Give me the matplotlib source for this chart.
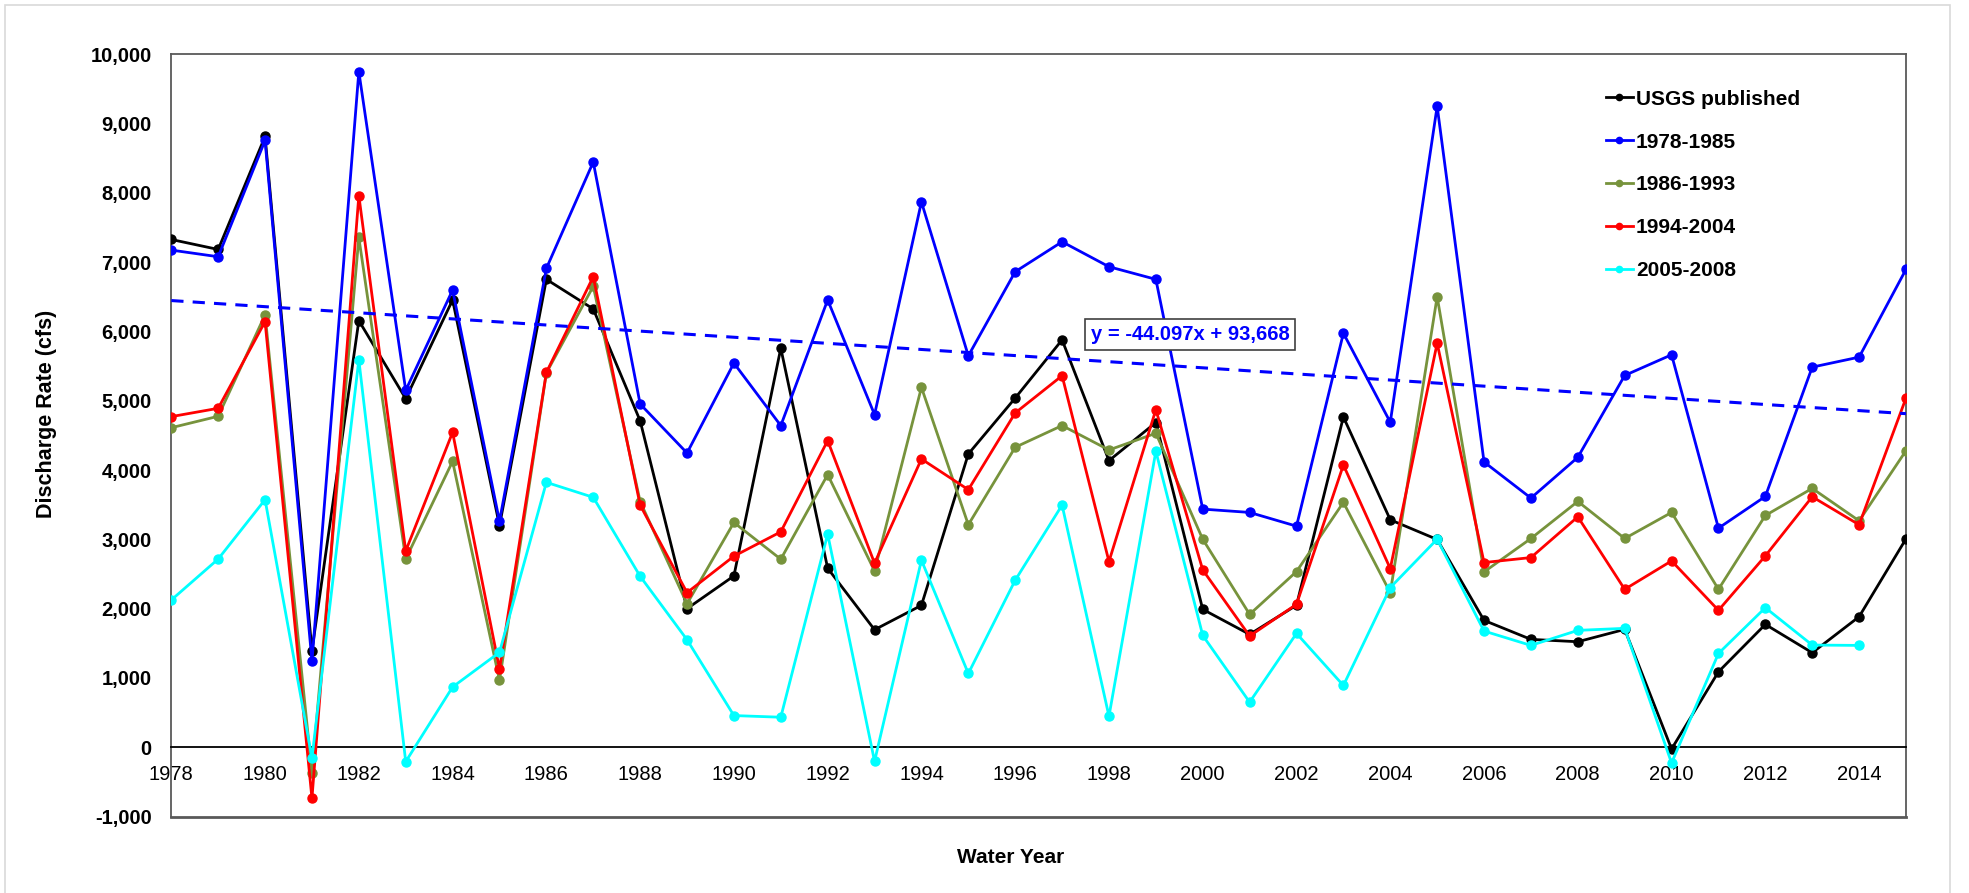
import numpy as np
import matplotlib
matplotlib.use("Agg")
import matplotlib.pyplot as plt
from matplotlib.lines import Line2D
from matplotlib.patches import Rectangle

plt.rcParams['font.family'] = ['Liberation Sans', 'DejaVu Sans']

years = list(range(1978, 2016))
usgs = [7325, 7181, 8811, 1394, 6155, 5029, 6453, 3197, 6750, 6323, 4710, 2000,
        2472, 5757, 2583, 1696, 2048, 4231, 5038, 5877, 4135, 4685,
        1990, 1629, 2050, 4765, 3282, 2998, 1831, 1557, 1523, 1701,
        -24, 1089, 1773, 1364, 1884, 3007]
p1978_1985 = [7172, 7076, 8754, 1240, 9746, 5149, 6596, 3260, 6908, 8442, 4952, 4245,
              5542, 4640, 6453, 4799, 7867, 5647, 6860, 7292, 6932, 6750,
              3436, 3388, 3190, 5973, 4689, 9247, 4116, 3595, 4183, 5364,
              5662, 3161, 3619, 5484, 5628, 6894]
p1986_1993 = [4610, 4775, 6237, -370, 7354, 2716, 4125, 966, 5400, 6650, 3545, 2070,
              3243, 2713, 3933, 2544, 5192, 3210, 4328, 4641, 4289, 4530,
              3002, 1918, 2535, 3533, 2231, 6500, 2530, 3012, 3547, 3012,
              3388, 2279, 3344, 3735, 3267, 4279]
p1994_2004 = [4770, 4890, 6141, -735, 7958, 2832, 4543, 1130, 5407, 6788, 3494, 2231,
              2757, 3108, 4424, 2655, 4159, 3716, 4823, 5360, 2680, 4870,
              2559, 1605, 2063, 4072, 2578, 5829, 2665, 2737, 3325, 2279,
              2689, 1976, 2761, 3614, 3210, 5038]
p2005_2008 = [2125, 2716, 3572, -154, 5590, -207, 870, 1370, 3822, 3606, 2467, 1552,
              458, 434, 3075, -202, 2699, 1065, 2410, 3494, 448, 4270,
              1614, 651, 1643, 892, 2304, 3002, 1677, 1470, 1687, 1716,
              -226, 1354, 2014, 1475, 1470, np.nan]

series_labels = ["USGS published", "1978-1985", "1986-1993", "1994-2004", "2005-2008"]
series_values = [usgs, p1978_1985, p1986_1993, p1994_2004, p2005_2008]
series_colors = ["#000000", "#0000FF", "#77933C", "#FF0000", "#00FFFF"]

trend_slope = -44.097
trend_intercept = 93668
trend_text = "y = -44.097x + 93,668"

x_ticks = list(range(1978, 2015, 2))
y_ticks = list(range(-1000, 10001, 1000))

fig = plt.figure(figsize=(19.69, 8.93), dpi=100)
ax = fig.add_axes([0.087, 0.0855, 0.881, 0.854])

for lab, vals, col in zip(series_labels, series_values, series_colors):
    ax.plot(years, vals, color=col, lw=2.0, marker='o', markersize=6.5,
            label=lab, zorder=3)

tx = np.array([years[0], years[-1]], dtype=float)
ax.plot(tx, trend_slope * tx + trend_intercept, color='#0000FF', lw=2.2,
        ls=(0, (4, 3)), zorder=4)

ax.text(1999.73, 5960, trend_text, color='#0000FF', fontsize=14.5, fontweight='bold',
        ha='center', va='center', zorder=5,
        bbox=dict(boxstyle='square,pad=0.3', facecolor='white', edgecolor='#404040', lw=1.2))

ax.set_xlim(1978, 2015)
ax.set_ylim(-1000, 10000)
ax.set_xticks(x_ticks)
ax.set_yticks(y_ticks)
ax.set_yticklabels([f"{v:,}" for v in y_ticks])
ax.tick_params(axis='both', length=0, labelsize=14.5)
for lbl in ax.get_xticklabels() + ax.get_yticklabels():
    lbl.set_fontweight('bold')
ax.tick_params(axis='x', pad=13)
ax.tick_params(axis='y', pad=14)

ax.spines['bottom'].set_position(('data', 0))
ax.spines['bottom'].set_color('#000000')
ax.spines['bottom'].set_linewidth(1.3)
for s in ['left', 'top', 'right']:
    ax.spines[s].set_color('#595959')
    ax.spines[s].set_linewidth(1.3)
ax.axhline(-1000, color='#595959', lw=2.0, clip_on=False, zorder=2)

ax.set_xlabel("Water Year", fontsize=15, fontweight='bold')
ax.xaxis.set_label_coords(0.484, -0.041)
ax.set_ylabel("Discharge Rate (cfs)", fontsize=15.5, fontweight='bold')
ax.yaxis.set_label_coords(-0.066, 0.528)

handles = [Line2D([0], [0], color=c, lw=2.0, marker='o', markersize=4.5) for c in series_colors]
leg = ax.legend(handles, series_labels, loc='upper left', bbox_to_anchor=(0.816, 0.978),
                frameon=False, handlelength=1.3, handletextpad=0.15, labelspacing=1.15,
                prop={'size': 15, 'weight': 'bold'})

fig.patches.append(Rectangle((5/1969, -0.1), (1950-5)/1969, 1.1 - 5/893,
                             transform=fig.transFigure, fill=False,
                             edgecolor='#D9D9D9', lw=1.2))

fig.savefig("out.png", dpi=100)
